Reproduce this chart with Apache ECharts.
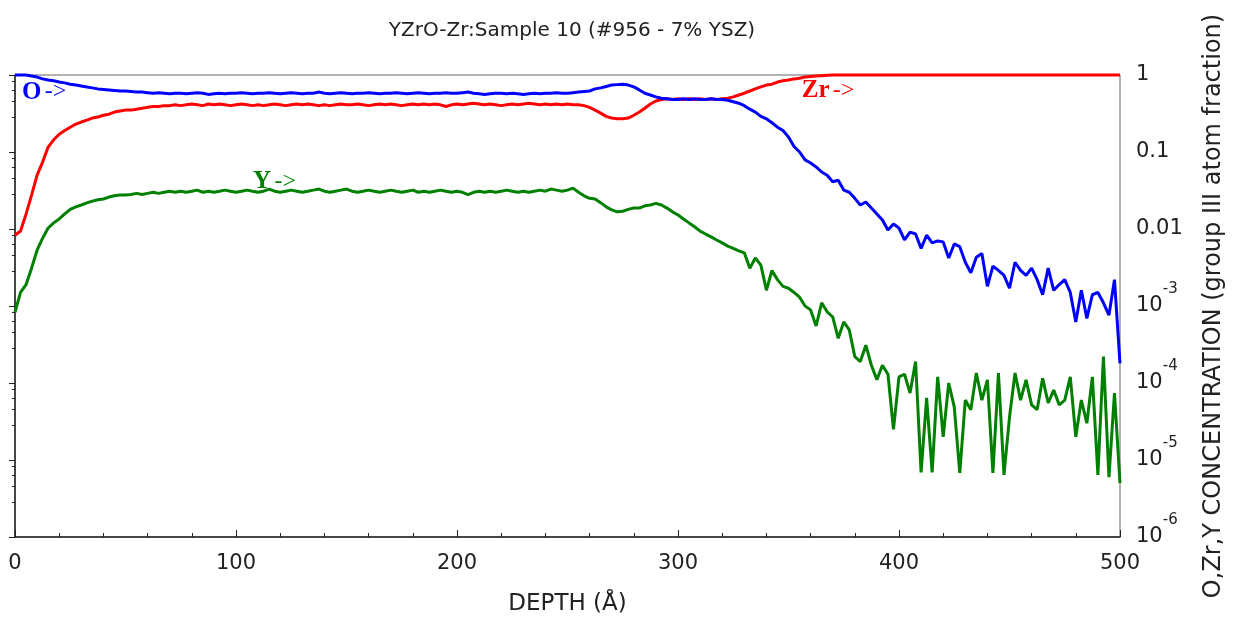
<!DOCTYPE html>
<html>
<head>
<meta charset="utf-8">
<script src="https://cdn.jsdelivr.net/npm/echarts@6/dist/echarts.min.js"></script>
<style>
html,body{margin:0;padding:0;background:#fff;}
#chart{width:1235px;height:626px;}
</style>
</head>
<body>
<div id="chart"></div>
<script>
// ---- DATA (depth sampled every 2.5 Å, from 0 to 500 Å) ----
const DEPTH_STEP = 2.5;

const X_TICKS = [0, 100, 200, 300, 400, 500];
const Y_TICKS = [1, 0.1, 0.01, 1e-3, 1e-4, 1e-5, 1e-6];

// Oxygen (blue)
const O_FRAC = [
  1.0, 1.0, 1.0, 0.97, 0.94, 0.89, 0.86, 0.84, 0.81, 0.79,          // 0
  0.76, 0.74, 0.72, 0.70, 0.68, 0.66, 0.65, 0.64, 0.63, 0.62,       // 25
  0.62, 0.61, 0.60, 0.60, 0.59, 0.58, 0.59, 0.58, 0.57, 0.58,       // 50
  0.58, 0.57, 0.58, 0.59, 0.58, 0.56, 0.57, 0.58, 0.57, 0.58,       // 75
  0.58, 0.59, 0.58, 0.57, 0.58, 0.58, 0.59, 0.58, 0.57, 0.58,       // 100
  0.59, 0.58, 0.57, 0.58, 0.58, 0.60, 0.58, 0.57, 0.58, 0.59,       // 125
  0.58, 0.57, 0.58, 0.58, 0.59, 0.58, 0.57, 0.58, 0.58, 0.59,       // 150
  0.58, 0.57, 0.58, 0.59, 0.58, 0.57, 0.58, 0.58, 0.59, 0.58,       // 175
  0.58, 0.59, 0.60, 0.58, 0.57, 0.56, 0.57, 0.58, 0.58, 0.57,       // 200
  0.58, 0.57, 0.56, 0.57, 0.58, 0.57, 0.58, 0.58, 0.59, 0.58,       // 225
  0.58, 0.59, 0.60, 0.61, 0.62, 0.66, 0.68, 0.71, 0.74, 0.75,       // 250
  0.76, 0.74, 0.70, 0.64, 0.58, 0.55, 0.52, 0.50, 0.49, 0.48,       // 275
  0.48, 0.49, 0.48, 0.49, 0.48, 0.48, 0.49, 0.48, 0.48, 0.47,       // 300
  0.45, 0.43, 0.40, 0.36, 0.33, 0.29, 0.27, 0.24, 0.21, 0.19,       // 325
  0.157, 0.118, 0.10, 0.079, 0.072, 0.064, 0.055, 0.050, 0.041, 0.043,            // 350
  0.032, 0.030, 0.025, 0.0205, 0.0224, 0.0187, 0.0157, 0.0131, 0.0097, 0.0116,    // 375
  0.0103, 0.0072, 0.0091, 0.0086, 0.0056, 0.0083, 0.0066, 0.0070, 0.0068, 0.0042, // 400
  0.0064, 0.0059, 0.0037, 0.0027, 0.0043, 0.0048, 0.0018, 0.0033, 0.0029, 0.0025, // 425
  0.0017, 0.0037, 0.0029, 0.0025, 0.0031, 0.0022, 0.0014, 0.0031, 0.0016, 0.0019, // 450
  0.0022, 0.0015, 0.00062, 0.0016, 0.00069, 0.0014, 0.0015, 0.0011, 0.00076, 0.0022, // 475
  0.00018                                                                          // 500
];

// Zirconium (red)
const ZR_FRAC = [
  0.0083, 0.0094, 0.0156, 0.0275, 0.050, 0.074, 0.116, 0.144, 0.17, 0.19, // 0
  0.21, 0.23, 0.245, 0.26, 0.276, 0.285, 0.30, 0.31, 0.33, 0.34,           // 25
  0.35, 0.35, 0.36, 0.37, 0.38, 0.39, 0.39, 0.40, 0.40, 0.41,              // 50
  0.40, 0.41, 0.42, 0.41, 0.40, 0.42, 0.41, 0.42, 0.41, 0.40,              // 75
  0.41, 0.42, 0.41, 0.40, 0.41, 0.40, 0.41, 0.42, 0.41, 0.40,              // 100
  0.41, 0.42, 0.41, 0.42, 0.41, 0.40, 0.41, 0.40, 0.41, 0.42,              // 125
  0.41, 0.41, 0.42, 0.41, 0.40, 0.41, 0.42, 0.41, 0.42, 0.41,              // 150
  0.40, 0.41, 0.42, 0.41, 0.42, 0.41, 0.42, 0.41, 0.39, 0.41,              // 175
  0.42, 0.41, 0.42, 0.43, 0.42, 0.41, 0.42, 0.41, 0.40, 0.41,              // 200
  0.42, 0.41, 0.42, 0.43, 0.42, 0.41, 0.42, 0.41, 0.42, 0.41,              // 225
  0.42, 0.41, 0.41, 0.40, 0.38, 0.35, 0.32, 0.29, 0.276, 0.27,             // 250
  0.27, 0.276, 0.30, 0.33, 0.37, 0.42, 0.46, 0.48, 0.49, 0.48,             // 275
  0.49, 0.48, 0.49, 0.48, 0.49, 0.48, 0.49, 0.48, 0.49, 0.50,              // 300
  0.52, 0.55, 0.58, 0.62, 0.66, 0.70, 0.74, 0.76, 0.81, 0.84,              // 325
  0.86, 0.89, 0.91, 0.94, 0.955, 0.97, 0.98, 0.99, 1.0, 1.0,               // 350
  1.0, 1.0, 1.0, 1.0, 1.0, 1.0, 1.0, 1.0, 1.0, 1.0,                        // 375
  1.0, 1.0, 1.0, 1.0, 1.0, 1.0, 1.0, 1.0, 1.0, 1.0,                        // 400
  1.0, 1.0, 1.0, 1.0, 1.0, 1.0, 1.0, 1.0, 1.0, 1.0,                        // 425
  1.0, 1.0, 1.0, 1.0, 1.0, 1.0, 1.0, 1.0, 1.0, 1.0,                        // 450
  1.0, 1.0, 1.0, 1.0, 1.0, 1.0, 1.0, 1.0, 1.0, 1.0,                        // 475
  1.0                                                                      // 500
];

// Yttrium (green)
const Y_FRAC = [
  0.00083, 0.0015, 0.0019, 0.0031, 0.0053, 0.0076, 0.0103, 0.012, 0.0135, 0.0157, // 0
  0.018, 0.0194, 0.0205, 0.0218, 0.023, 0.024, 0.0245, 0.026, 0.027, 0.0276,       // 25
  0.0276, 0.028, 0.029, 0.028, 0.029, 0.030, 0.029, 0.030, 0.031, 0.030,           // 50
  0.031, 0.030, 0.031, 0.032, 0.030, 0.031, 0.030, 0.031, 0.032, 0.031,            // 75
  0.030, 0.031, 0.032, 0.031, 0.030, 0.031, 0.033, 0.031, 0.030, 0.031,            // 100
  0.032, 0.031, 0.030, 0.031, 0.032, 0.033, 0.031, 0.030, 0.031, 0.032,            // 125
  0.033, 0.031, 0.030, 0.031, 0.032, 0.031, 0.030, 0.031, 0.032, 0.031,            // 150
  0.030, 0.031, 0.032, 0.030, 0.031, 0.030, 0.031, 0.032, 0.031, 0.030,            // 175
  0.031, 0.030, 0.028, 0.030, 0.031, 0.030, 0.031, 0.030, 0.031, 0.032,            // 200
  0.031, 0.030, 0.031, 0.030, 0.031, 0.032, 0.031, 0.033, 0.032, 0.031,            // 225
  0.032, 0.034, 0.030, 0.027, 0.025, 0.0245, 0.022, 0.0194, 0.0177, 0.0167,        // 250
  0.017, 0.018, 0.0187, 0.0187, 0.020, 0.0205, 0.0215, 0.0205, 0.0187, 0.0167,     // 275
  0.0152, 0.0135, 0.012, 0.0107, 0.0094, 0.0086, 0.0079, 0.0072, 0.0066, 0.0060,   // 300
  0.0056, 0.0052, 0.0049, 0.0031, 0.0042, 0.0034, 0.0016, 0.0029, 0.0022, 0.0018,  // 325
  0.0017, 0.0015, 0.0013, 0.0010, 0.00089, 0.00055, 0.0011, 0.00084, 0.00072, 0.00038, // 350
  0.00062, 0.00049, 0.00022, 0.00019, 0.00031, 0.00017, 0.00011, 0.00017, 0.00013, 0.000025, // 375
  0.00012, 0.00013, 0.000074, 0.00019, 0.0000069, 0.000064, 0.0000069, 0.00012, 0.000020, 0.00010, // 400
  0.000049, 0.0000068, 0.000060, 0.000045, 0.000135, 0.000060, 0.00011, 0.0000068, 0.000135, 0.0000064, // 425
  0.000036, 0.000135, 0.000060, 0.00011, 0.000052, 0.000045, 0.000115, 0.000055, 0.000081, 0.000052, // 450
  0.000060, 0.00012, 0.000020, 0.000060, 0.000030, 0.00012, 0.0000064, 0.00022, 0.0000060, 0.000074, // 475
  0.0000050                                                                                  // 500
];

// In-plot annotations, anchored in data coordinates [depth, fraction]
const ANNOTATIONS = [
  { name: 'O',  text: 'O', color: '#0000ff', at: [3.2, 0.60] },
  { name: 'Zr', text: 'Zr', color: '#ff0000', at: [356, 0.62] },
  { name: 'Y',  text: 'Y', color: '#008000', at: [107.7, 0.041] }
];

// ---- CHART ----
const depth = O_FRAC.map((_, i) => i * DEPTH_STEP);
const pairs = arr => arr.map((v, i) => [depth[i], v]);

const SANS = 'DejaVu Sans';
const chart = echarts.init(document.getElementById('chart'), null, { renderer: 'canvas' });

function yLabel(v) {
  const e = Math.round(Math.log10(v));
  if (e === 0) return '1';
  if (e === -1) return '0.1';
  if (e === -2) return '0.01';
  return '{b|10}{s|' + e + '}';
}

const lineSeries = (name, data, color) => ({
  name, type: 'line', data: pairs(data), showSymbol: false, symbol: 'none',
  clip: false, lineStyle: { color, width: 3 }, itemStyle: { color },
  emphasis: { disabled: true }, silent: true
});

chart.setOption({
  animation: false,
  backgroundColor: '#ffffff',
  title: {
    text: 'YZrO-Zr:Sample 10 (#956 - 7% YSZ)',
    left: 567, top: 16, textAlign: 'center',
    textStyle: { fontFamily: SANS, fontSize: 20, fontWeight: 'normal', color: '#222' }
  },
  grid: {
    left: 15, right: 115, top: 75, bottom: 89,
    show: true, borderColor: '#666', borderWidth: 1, backgroundColor: 'transparent'
  },
  xAxis: {
    type: 'value', min: X_TICKS[0], max: X_TICKS[X_TICKS.length - 1], interval: 100,
    name: 'DEPTH (Å)', nameLocation: 'middle', nameGap: 56,
    nameTextStyle: { fontFamily: SANS, fontSize: 23, color: '#222' },
    axisLine: { show: true, lineStyle: { color: '#222', width: 1.5 } },
    axisTick: { show: true, inside: true, length: 7, lineStyle: { color: '#222' } },
    minorTick: { show: true, splitNumber: 5, length: 4, lineStyle: { color: '#222' } },
    splitLine: { show: false },
    axisLabel: { fontFamily: SANS, fontSize: 21, color: '#222', margin: 16 }
  },
  yAxis: {
    type: 'log', logBase: 10, min: Y_TICKS[Y_TICKS.length - 1], max: Y_TICKS[0],
    position: 'right',
    name: 'O,Zr,Y CONCENTRATION (group III atom fraction)',
    nameLocation: 'middle', nameRotate: 90, nameGap: 82,
    nameTextStyle: { fontFamily: SANS, fontSize: 24, color: '#222' },
    axisLine: { show: true, lineStyle: { color: '#222', width: 1.5 } },
    axisTick: { show: true, inside: true, length: 6, lineStyle: { color: '#222' } },
    minorTick: { show: true, splitNumber: 5, length: 3, lineStyle: { color: '#222' } },
    splitLine: { show: false },
    axisLabel: {
      formatter: yLabel, margin: 16, fontFamily: SANS, fontSize: 21, color: '#222',
      rich: {
        b: { fontFamily: SANS, fontSize: 21, color: '#222' },
        s: { fontFamily: SANS, fontSize: 15, color: '#222', padding: [0, 0, 34, 0] }
      }
    }
  },
  series: [
    lineSeries('Y', Y_FRAC, '#008000'),
    lineSeries('Zr', ZR_FRAC, '#ff0000'),
    lineSeries('O', O_FRAC, '#0000ff')
  ]
});

// place annotations from data coordinates
const graphics = ANNOTATIONS.map(a => {
  const p = chart.convertToPixel({ gridIndex: 0 }, a.at);
  return {
    type: 'text', x: p[0], y: p[1], silent: true,
    style: {
      text: '{e|' + a.text + '} {a|->}',
      verticalAlign: 'middle', align: 'left',
      rich: {
        e: { fontFamily: 'Liberation Serif', fontWeight: 'bold', fontSize: 25, fill: a.color, color: a.color },
        a: { fontFamily: 'Liberation Serif', fontSize: 24, fill: a.color, color: a.color }
      },
      fill: a.color
    }
  };
});
chart.setOption({ graphic: graphics });
</script>
</body>
</html>
